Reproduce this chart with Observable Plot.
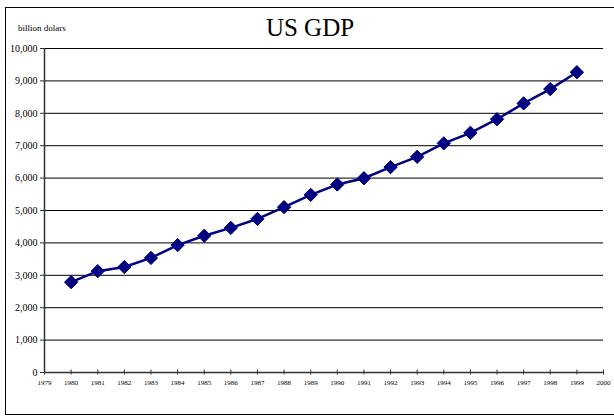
<!DOCTYPE html>
<html>
<head>
<meta charset="utf-8">
<script src="https://cdn.jsdelivr.net/npm/d3@7"></script>
<script src="https://cdn.jsdelivr.net/npm/@observablehq/plot@0.6"></script>
<style>
  html, body { margin: 0; padding: 0; background: #fff; overflow: hidden; }
  #wrap { position: relative; width: 614px; height: 419px; overflow: hidden; }
  #frame { position: absolute; left: 5px; top: 7px; width: 640px; height: 408px; border: 1.5px solid #000; box-sizing: border-box; pointer-events: none; }
  #title { position: absolute; left: 0; width: 620px; top: 14px; text-align: center; font-family: "Liberation Serif", serif; font-size: 25px; color: #000; }
  #unit { position: absolute; left: 18px; top: 23px; font-family: "Liberation Serif", serif; font-size: 9px; color: #000; }
  #chart { position: absolute; left: 0; top: 0; }
  #chart svg text { font-family: "Liberation Serif", serif; }
</style>
</head>
<body>
<div id="wrap">
  <div id="chart"></div>
  <div id="frame"></div>
  <div id="title">US GDP</div>
  <div id="unit">billion dolars</div>
</div>
<script>
const years = [1980,1981,1982,1983,1984,1985,1986,1987,1988,1989,1990,1991,1992,1993,1994,1995,1996,1997,1998,1999];
const gdp = [2789,3128,3255,3536,3933,4220,4463,4740,5104,5484,5803,5996,6338,6657,7072,7398,7817,8304,8747,9268];
const xTicks = d3.range(1979, 2001);
const yTicks = d3.range(0, 10001, 1000);
const gridValues = d3.range(1000, 10001, 1000);

const data = years.map((y, i) => ({year: y, gdp: gdp[i]}));
const serif = "Liberation Serif, serif";

const chart = Plot.plot({
  width: 614,
  height: 419,
  marginLeft: 44,
  marginRight: 11,
  marginTop: 48,
  marginBottom: 47,
  style: {fontFamily: serif, fontSize: "10px", color: "#000", background: "transparent"},
  x: {domain: [1979, 2000], axis: null},
  y: {domain: [0, 10000], axis: null},
  marks: [
    Plot.ruleY(gridValues, {x1: 1979, x2: 2000, stroke: "#000", strokeWidth: 1}),
    Plot.ruleY([0], {x1: 1979, x2: 2000, stroke: "#333", strokeWidth: 1.5}),
    Plot.ruleX([1979], {y1: 0, y2: 10000, stroke: "#333", strokeWidth: 1.5}),
    Plot.ruleX(xTicks, {x: d => d, y1: 0, y2: 0, insetTop: -2.5, insetBottom: -2.5, stroke: "#333", strokeWidth: 1}),
    Plot.axisY({ticks: yTicks, tickFormat: d3.format(","), tickSize: 4, tickPadding: 3, fontSize: 10, fontFamily: serif, stroke: "#333", fill: "#000", label: null}),
    Plot.axisX({ticks: xTicks, tickFormat: d => String(d), tickSize: 0, tickPadding: 8, fontSize: 7, fontFamily: serif, fill: "#000", label: null}),
    Plot.line(data, {x: "year", y: "gdp", stroke: "#000080", strokeWidth: 2.5}),
    Plot.dot(data, {x: "year", y: "gdp", symbol: "diamond2", r: 6, fill: "#000080", stroke: "#000080", strokeWidth: 1})
  ]
});
document.getElementById("chart").appendChild(chart);
</script>
</body>
</html>
